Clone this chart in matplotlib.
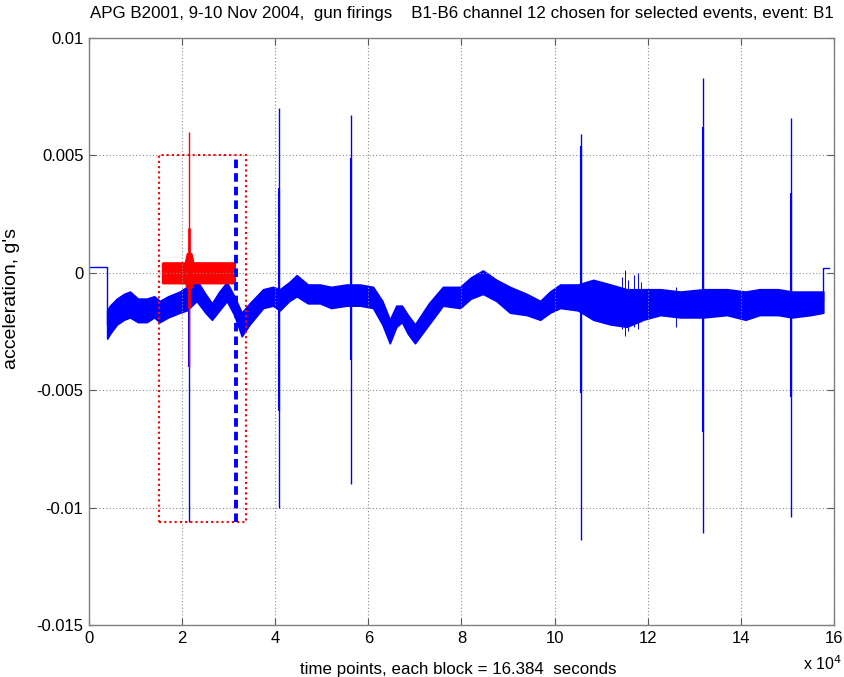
import matplotlib
matplotlib.use('Agg')
import matplotlib.pyplot as plt
from matplotlib.ticker import FixedLocator

plt.rcParams['font.family'] = ['Liberation Sans', 'DejaVu Sans']

# time axis in units of 1e4 time points
band_t = [0.39, 0.45, 0.6, 0.75, 0.88, 1.05, 1.24, 1.4, 1.52, 1.7, 1.95, 2.1,
          2.31, 2.5, 2.64, 2.8, 2.96, 3.12, 3.28, 3.45, 3.74, 3.95, 4.1, 4.3,
          4.46, 4.7, 4.96, 5.2, 5.53, 5.82, 6.1, 6.3, 6.46, 6.6, 6.72, 6.85,
          7.0, 7.3, 7.6, 7.97, 8.2, 8.46, 8.75, 9.04, 9.4, 9.69, 9.9, 10.12,
          10.5, 10.83, 11.2, 11.55, 11.9, 12.27, 12.7, 13.2, 13.7, 14.1, 14.4,
          14.8, 15.1, 15.5, 15.77]
band_lo = [-0.0028, -0.0026, -0.0022, -0.0020, -0.0019, -0.0021, -0.0021,
           -0.0019, -0.0021, -0.0019, -0.0017, -0.0016, -0.0012, -0.0017,
           -0.0020, -0.0016, -0.0012, -0.0018, -0.0027, -0.0022, -0.0015,
           -0.0014, -0.0016, -0.0012, -0.0010, -0.0013, -0.0013, -0.0015,
           -0.0014, -0.0014, -0.0015, -0.0022, -0.0030, -0.0023, -0.0021,
           -0.0026, -0.0030, -0.0022, -0.0014, -0.0015, -0.0011, -0.0009,
           -0.0012, -0.0017, -0.0018, -0.0020, -0.0017, -0.0015, -0.0016,
           -0.0020, -0.0022, -0.0023, -0.0020, -0.0018, -0.0019, -0.0019,
           -0.0018, -0.0020, -0.0018, -0.0018, -0.0019, -0.0018, -0.0017]
band_hi = [-0.0016, -0.0014, -0.0011, -0.0009, -0.0008, -0.0011, -0.0011,
           -0.0010, -0.0012, -0.0010, -0.0008, -0.0006, -0.0003, -0.0009,
           -0.0013, -0.0008, -0.0004, -0.0010, -0.0017, -0.0013, -0.0007,
           -0.0006, -0.0007, -0.0004, -0.0001, -0.0005, -0.0005, -0.0006,
           -0.0005, -0.0005, -0.0006, -0.0012, -0.0020, -0.0014, -0.0014,
           -0.0018, -0.0022, -0.0013, -0.0006, -0.0006, -0.0002, 0.0001,
           -0.0003, -0.0006, -0.0009, -0.0012, -0.0008, -0.0005, -0.0005,
           -0.0003, -0.0005, -0.0007, -0.0007, -0.0007, -0.0008, -0.0007,
           -0.0007, -0.0008, -0.0007, -0.0007, -0.0008, -0.0008, -0.0008]

# flat segments at the start and end of the record
step_left_t = [0.0, 0.39, 0.39]
step_left_y = [0.00025, 0.00025, -0.0022]
step_right_t = [15.77, 15.77, 15.9]
step_right_y = [-0.0012, 0.0002, 0.0002]

# gun firing spikes: position, full range, thicker inner range
spike_t = [2.15, 4.08, 5.62, 10.56, 13.19, 15.08]
spike_top = [0.0, 0.0070, 0.0067, 0.0059, 0.0083, 0.0066]
spike_bot = [-0.0106, -0.0100, -0.0090, -0.0114, -0.0111, -0.0104]
spike_in_top = [-0.0005, 0.0036, 0.0049, 0.0054, 0.0062, 0.0034]
spike_in_bot = [-0.0040, -0.0059, -0.0037, -0.0051, -0.0068, -0.0053]

# small bursts near 11.5
burst_t = [11.45, 11.52, 11.58, 11.7, 11.78, 11.86, 12.6]
burst_top = [-0.0002, 0.0001, -0.0003, -0.0001, 0.0000, -0.0004, -0.0006]
burst_bot = [-0.0024, -0.0027, -0.0025, -0.0023, -0.0024, -0.0021, -0.0023]

# selected event B1 (red)
event_t = [1.59, 2.08, 2.12, 2.18, 2.22, 3.11]
event_lo = [-0.0004, -0.0004, -0.0006, -0.0006, -0.0004, -0.0004]
event_hi = [0.0004, 0.0004, 0.0008, 0.0008, 0.0004, 0.0004]
event_spike_t = 2.15
event_spike = (-0.0040, 0.0060)
event_spike_in = (-0.0015, 0.0019)

# selection box and marker
box_t = [1.5, 3.37]
box_y = [-0.0106, 0.005]
marker_t = 3.16

xticks = [0, 2, 4, 6, 8, 10, 12, 14, 16]
yticks = [0.01, 0.005, 0, -0.005, -0.01, -0.015]
ytick_labels = ['0.01', '0.005', '0', '-0.005', '-0.01', '-0.015']

fig = plt.figure(figsize=(8.45, 6.77), dpi=100)
ax = fig.add_axes([89 / 845, 1 - 625 / 677, 745 / 845, 587 / 677])

blue = '#0000ff'
red = '#ff0000'

ax.plot(step_left_t, step_left_y, color=blue, lw=1)
ax.plot(step_right_t, step_right_y, color=blue, lw=1)
ax.fill_between(band_t, band_lo, band_hi, color=blue, lw=1.2, edgecolor=blue)
ax.vlines(burst_t, burst_bot, burst_top, color=blue, lw=0.7)
ax.vlines(spike_t, spike_bot, spike_top, color=blue, lw=1)
ax.vlines(spike_t, spike_in_bot, spike_in_top, color=blue, lw=1.5)

ax.fill_between(event_t, event_lo, event_hi, color=red, lw=2.5, edgecolor=red,
                joinstyle='round', capstyle='round')
ax.vlines([event_spike_t], [event_spike[0]], [event_spike[1]], color=red, lw=1)
ax.vlines([event_spike_t], [event_spike_in[0]], [event_spike_in[1]], color=red, lw=2)

ax.plot([box_t[0], box_t[1], box_t[1], box_t[0], box_t[0]],
        [box_y[0], box_y[0], box_y[1], box_y[1], box_y[0]],
        color=red, lw=1.5, ls=(0, (1, 1.5)))
ax.plot([marker_t, marker_t], box_y, color=blue, lw=2.8, ls=(0, (2.2, 1.3)))

ax.set_xlim(0, 16)
ax.set_ylim(-0.015, 0.01)
ax.xaxis.set_major_locator(FixedLocator(xticks))
ax.set_xticklabels([str(v) for v in xticks])
ax.yaxis.set_major_locator(FixedLocator(yticks))
ax.set_yticklabels(ytick_labels)
ax.tick_params(direction='in', length=5, width=0.8, color='0.35',
               top=True, right=True, labelsize=12, pad=4)
ax.grid(True, color='0.55', lw=0.8, ls=(0, (1, 2)))
for s in ax.spines.values():
    s.set_color('0.5')
    s.set_linewidth(1)

ax.set_xlabel('time points, each block = 16.384  seconds', fontsize=12.2)
ax.xaxis.set_label_coords(0.495, -0.063)
ax.set_ylabel("acceleration, g's", fontsize=14)
ax.yaxis.set_label_coords(-0.093, 0.557)
ax.set_title('APG B2001, 9-10 Nov 2004,  gun firings    '
             'B1-B6 channel 12 chosen for selected events, event: B1',
             fontsize=12.2, y=1.02)
ax.text(0.958, -0.065, r'x 10$^4$', transform=ax.transAxes, fontsize=11.5,
        ha='left', va='center')

fig.savefig('out.png', dpi=100)
